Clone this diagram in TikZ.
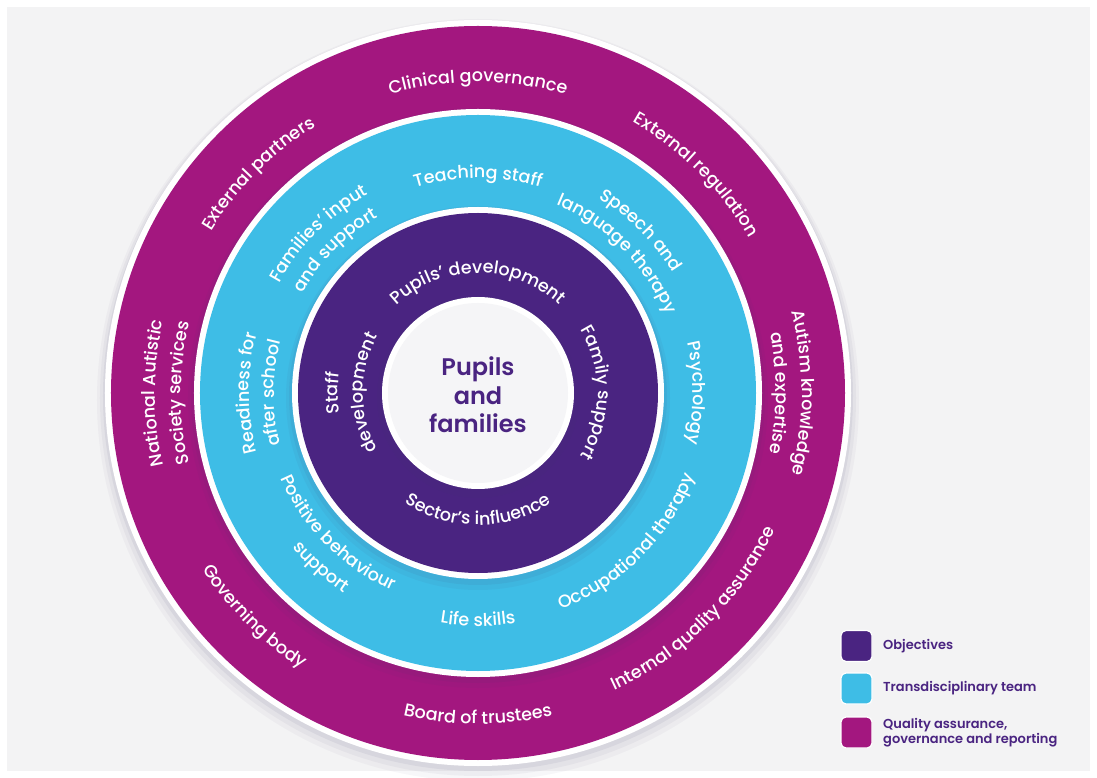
\documentclass[tikz,border=0pt]{standalone}
\usepackage{fontspec}
\setmainfont{Poppins}[UprightFont=* Medium, BoldFont=* SemiBold]
\usetikzlibrary{decorations.text}
\definecolor{magentaring}{RGB}{163,23,127}
\definecolor{cyanring}{RGB}{62,189,230}
\definecolor{purplering}{RGB}{74,36,129}
\definecolor{bggrey}{RGB}{243,243,244}
\definecolor{diskin}{RGB}{245,245,247}
\definecolor{diskout}{RGB}{228,225,237}
\definecolor{shadowc}{RGB}{70,60,110}
\pgfdeclareradialshading{innerdisk}{\pgfpoint{0bp}{0bp}}{color(0bp)=(diskin); color(38bp)=(diskin); color(50bp)=(diskout)}
\newcommand\ringfont{\fontsize{17.6}{20}\selectfont\color{white}}
\newcommand\cwtext[3]{\path[decorate,decoration={text along path,text={|\ringfont|#3},text align=center}] ({#1+85}:#2) arc[start angle={#1+85}, end angle={#1-85}, radius=#2];}
\newcommand\ccwtext[3]{\path[decorate,decoration={text along path,text={|\ringfont|#3},text align=center}] ({#1-85}:#2) arc[start angle={#1-85}, end angle={#1+85}, radius=#2];}
\tikzset{
  ringshadow/.style={fill=shadowc, opacity=#1},
  legendbox/.style={fill=#1, draw=white, line width=1.2pt, rounded corners=5pt, minimum width=31pt, minimum height=31pt, inner sep=0pt},
  legendtext/.style={anchor=west, font=\fontsize{13}{14.5}\selectfont\bfseries, text=purplering, align=left, inner sep=0pt}
}
\begin{document}
\begin{tikzpicture}[x=1pt,y=1pt]
\useasboundingbox (-478,-385) rectangle (619,393);
\fill[white] (-478,-385) rectangle (619,393);
\fill[bggrey] (-471,-378) rectangle (612,386);
% outer ring
\fill[ringshadow=.04] (0,-7) circle (381);
\fill[ringshadow=.05] (0,-5) circle (378);
\fill[ringshadow=.07] (0,-3) circle (375);
\fill[white] (0,0) circle (373);
\fill[magentaring] (0,0) circle (367);
% cyan ring
\fill[ringshadow=.05] (0,-5) circle (290);
\fill[ringshadow=.07] (0,-3) circle (287);
\fill[white] (0,0) circle (284);
\fill[cyanring] (0,0) circle (278);
% purple ring
\fill[ringshadow=.05] (0,-5) circle (192);
\fill[ringshadow=.07] (0,-3) circle (189);
\fill[white] (0,0) circle (186);
\fill[purplering] (0,0) circle (180);
% centre disk
\fill[ringshadow=.06] (0,-4) circle (101);
\fill[white] (0,0) circle (96);
\shade[shading=innerdisk] (0,0) circle (90);
\node[font=\fontsize{24}{28.5}\selectfont\bfseries, text=purplering, align=center] (centre) at (0,-2) {Pupils\\and\\families};
% magenta texts
\cwtext{90}{311}{Clinical governance}
\cwtext{135}{312}{External partners}
\cwtext{45}{312}{External regulation}
\cwtext{180}{323}{National Autistic}
\cwtext{180}{297}{Society services}
\cwtext{0}{324}{Autism knowledge}
\cwtext{0}{298}{and expertise}
\ccwtext{225}{327}{Governing body}
\ccwtext{270}{331}{Board of trustees}
\ccwtext{315}{327}{Internal quality assurance}
% cyan texts
\cwtext{90}{215}{Teaching staff}
\cwtext{135}{227}{Families' input}
\cwtext{135}{202}{and support}
\cwtext{45}{229}{Speech and}
\cwtext{45}{204}{language therapy}
\cwtext{0}{215}{Psychology}
\cwtext{180}{229}{Readiness for}
\cwtext{180}{204}{after school}
\ccwtext{225}{215}{Positive behaviour}
\ccwtext{228}{241}{support}
\ccwtext{270}{233}{Life skills}
\ccwtext{315}{232}{Occupational therapy}
% purple texts
\cwtext{90}{120}{Pupils' development}
\cwtext{180}{140}{Staff}
\cwtext{180}{115}{development}
\cwtext{0}{120}{Family support}
\ccwtext{270}{132}{Sector's influence}
% legend
\node[legendbox=purplering] (lobj) at (378.5,-253) {};
\node[legendbox=cyanring] (ltrans) at (378.5,-295.5) {};
\node[legendbox=magentaring] (lqual) at (378.5,-339.5) {};
\node[legendtext] (tobj) at (405,-253) {Objectives};
\node[legendtext] (ttrans) at (405,-295.5) {Transdisciplinary team};
\node[legendtext] (tqual) at (405,-339.5) {Quality assurance,\\governance and reporting};
\end{tikzpicture}
\end{document}
